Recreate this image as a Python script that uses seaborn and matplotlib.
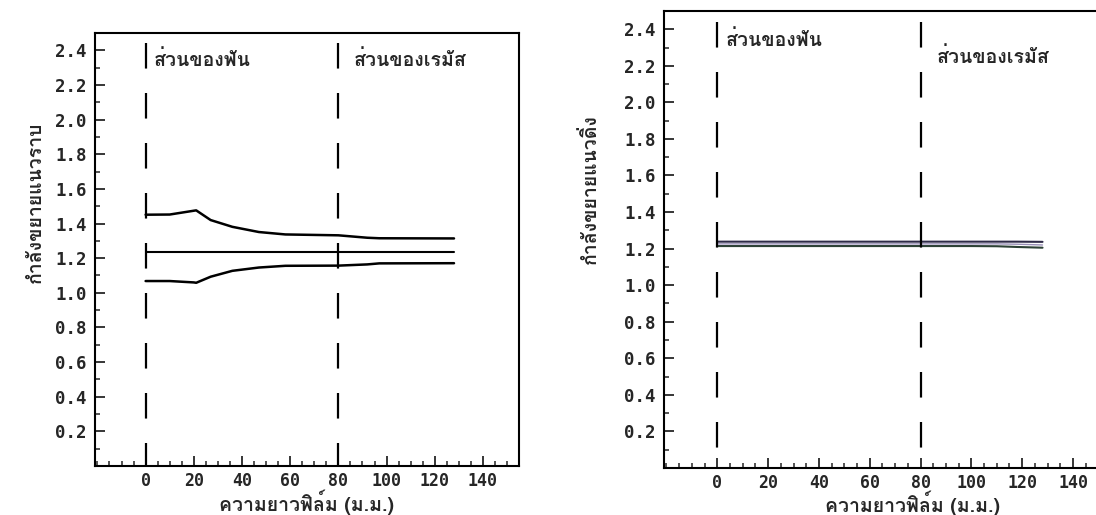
import matplotlib
matplotlib.use('Agg')
import matplotlib.pyplot as plt
from matplotlib import font_manager, ft2font
from matplotlib.ticker import FixedLocator, MultipleLocator
import seaborn as sns

# left panel (horizontal magnification)
film_x_h = [0, 10, 20, 21, 27, 36, 47, 58, 80, 92, 97, 128]
upper_h = [1.451, 1.452, 1.474, 1.476, 1.420, 1.381, 1.351, 1.337, 1.332, 1.318, 1.315, 1.314]
mean_h = [1.234, 1.234, 1.234, 1.234, 1.234, 1.234, 1.234, 1.234, 1.234, 1.234, 1.234, 1.234]
lower_h = [1.068, 1.068, 1.060, 1.058, 1.093, 1.127, 1.146, 1.156, 1.157, 1.164, 1.170, 1.171]

# right panel (vertical magnification)
film_x_v = [0, 20, 40, 60, 80, 100, 110, 118, 128]
upper_v = [1.238, 1.238, 1.238, 1.238, 1.238, 1.238, 1.238, 1.238, 1.237]
mean_v = [1.226, 1.226, 1.226, 1.226, 1.226, 1.226, 1.226, 1.224, 1.220]
lower_v = [1.214, 1.214, 1.214, 1.214, 1.214, 1.214, 1.213, 1.209, 1.205]

zone_x = [0, 80]
zone_names = ['ส่วนของฟัน', 'ส่วนของเรมัส']
x_ticks = [0, 20, 40, 60, 80, 100, 120, 140]
y_ticks = [0.2, 0.4, 0.6, 0.8, 1.0, 1.2, 1.4, 1.6, 1.8, 2.0, 2.2, 2.4]
y_labels = ['0.2', '0.4', '0.6', '0.8', '1.0', '1.2', '1.4', '1.6', '1.8', '2.0', '2.2', '2.4']
xlabel = 'ความยาวฟิล์ม (ม.ม.)'
ylabel_h = 'กำลังขยายแนวราบ'
ylabel_v = 'กำลังขยายแนวดิ่ง'

sns.set_style('ticks')

# find a font that has Thai glyphs
thai = None
for f in font_manager.fontManager.ttflist:
    try:
        if 0x0E01 in ft2font.FT2Font(f.fname).get_charmap():
            thai = f.name
            break
    except Exception:
        pass
fams = [thai, 'DejaVu Sans'] if thai else ['DejaVu Sans']
plt.rcParams['font.family'] = fams
mono = 'DejaVu Sans Mono'


def panel(ax, x, lines, colors, widths, ylabel, ylab_xy, xlab_xy, txt_y):
    for ys, c, w in zip(lines, colors, widths):
        sns.lineplot(x=x, y=ys, ax=ax, color=c, linewidth=w, estimator=None)
    for zx in zone_x:
        ax.plot([zx, zx], [2.44, -0.05], color='black', linewidth=1.6,
                linestyle=(0, (11.5, 11)), solid_capstyle='butt')
    ax.text(zone_x[0] + 3.5, txt_y[0], zone_names[0], fontsize=14,
            fontweight='bold', ha='left', va='center')
    ax.text(zone_x[1] + 6.5, txt_y[1], zone_names[1], fontsize=14,
            fontweight='bold', ha='left', va='center')
    ax.set_xlim(-21, 155)
    ax.set_ylim(0, 2.5)
    ax.xaxis.set_major_locator(FixedLocator(x_ticks))
    ax.xaxis.set_minor_locator(MultipleLocator(5))
    ax.yaxis.set_major_locator(FixedLocator(y_ticks))
    ax.yaxis.set_minor_locator(MultipleLocator(0.1))
    ax.set_xticklabels([str(t) for t in x_ticks], fontfamily=mono,
                       fontsize=12, fontweight='bold')
    ax.set_yticklabels(y_labels, fontfamily=mono, fontsize=12.5, fontweight='bold')
    ax.tick_params(which='major', direction='in', length=7, width=1.3, pad=6)
    ax.tick_params(axis='x', which='major', pad=4)
    ax.tick_params(which='minor', direction='in', length=3.5, width=1.1)
    for s in ax.spines.values():
        s.set_linewidth(1.5)
        s.set_color('black')
    ax.set_xlabel(xlabel, fontsize=14, fontweight='bold', va='baseline')
    ax.set_ylabel(ylabel, fontsize=14, fontweight='bold')
    ax.xaxis.set_label_coords(*xlab_xy)
    ax.yaxis.set_label_coords(*ylab_xy)


fig = plt.figure(figsize=(10.96, 5.15), dpi=100)
ax1 = fig.add_axes([0.0867, 0.0951, 0.3869, 0.8408])
ax2 = fig.add_axes([0.6058, 0.0913, 0.4080, 0.8874])

panel(ax1, film_x_h, [upper_h, mean_h, lower_h], ['black', 'black', 'black'],
      [1.8, 1.5, 1.8], ylabel_h, (-0.118, 0.61), (0.498, -0.104), (2.345, 2.345))
panel(ax2, film_x_v, [upper_v, mean_v, lower_v], ['#2e2a48', '#9a90b8', '#2d4136'],
      [1.5, 1.0, 1.5], ylabel_v, (-0.143, 0.61), (0.556, -0.097), (2.34, 2.25))

fig.savefig('out.png', dpi=100, facecolor='white')
